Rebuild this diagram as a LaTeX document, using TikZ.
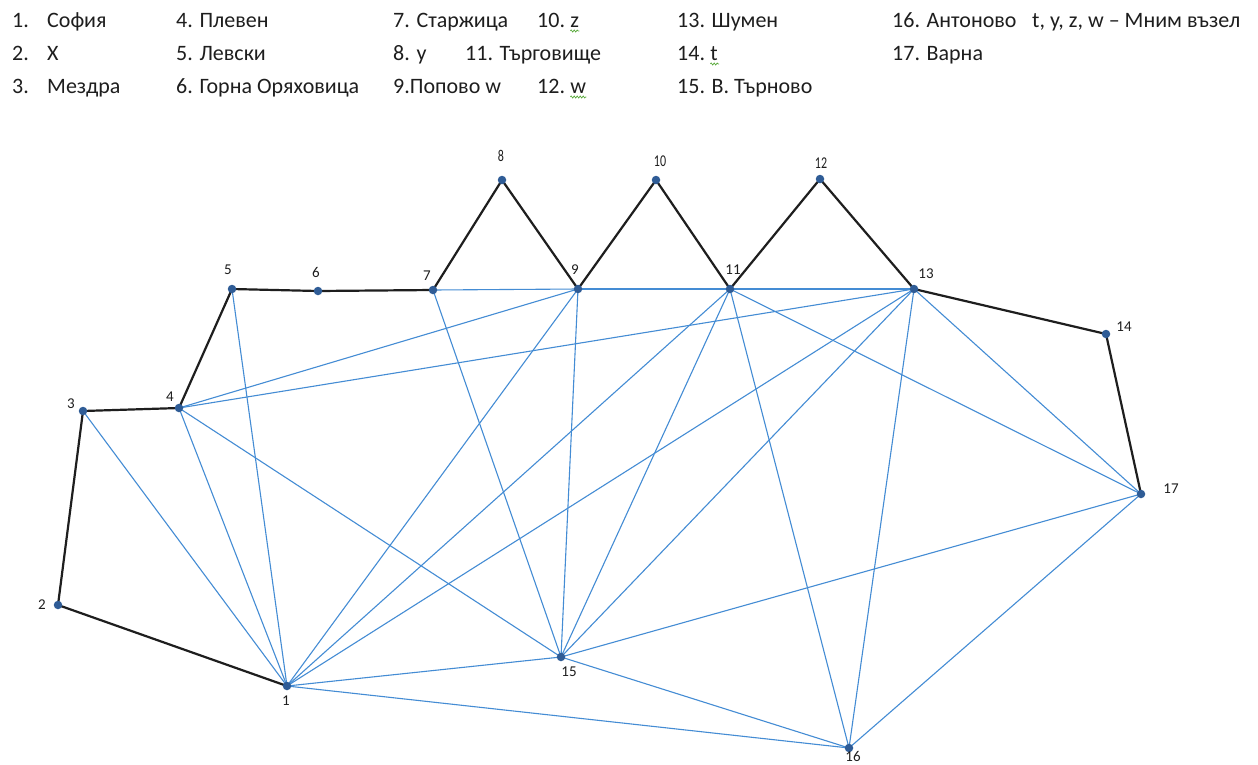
\documentclass[tikz,border=0pt]{standalone}
\usepackage{fontspec}
\setmainfont{Carlito}
\usetikzlibrary{decorations.pathmorphing}
\pgfdeclarelayer{background}
\pgfsetlayers{background,main}
\definecolor{edgeblue}{RGB}{68,140,212}
\definecolor{dotblue}{RGB}{47,92,150}
\definecolor{ink}{RGB}{30,30,30}
\definecolor{spell}{RGB}{90,170,60}
\begin{document}
\begin{tikzpicture}[x=1pt,y=-1pt,
  vtx/.style={circle,fill=dotblue,inner sep=0pt,minimum size=8.5pt},
  road/.style={draw=ink,line width=2.2pt},
  link/.style={draw=edgeblue,line width=1.1pt},
  num/.style={font=\fontsize{15}{17}\selectfont,inner sep=0pt,text=ink},
  head/.style={font=\fontsize{22}{26}\selectfont,anchor=base west,inner sep=0pt,text=ink},
  squiggle/.style={draw=spell,line width=0.7pt,decorate,decoration={snake,amplitude=1pt,segment length=3pt}}]
\useasboundingbox (0,0) rectangle (1258,764);

% legend
\node[head] (h1a) at (12,27) {1.};
\node[head] (h1b) at (47,27) {София};
\node[head] (h2a) at (12,60) {2.};
\node[head] (h2b) at (47,60) {X};
\node[head] (h3a) at (12,93) {3.};
\node[head] (h3b) at (47,93) {Мездра};
\node[head] (h4) at (176,27) {4. Плевен};
\node[head] (h5) at (176,60) {5. Левски};
\node[head] (h6) at (176,93) {6. Горна Оряховица};
\node[head] (h7) at (393,27) {7. Старжица};
\node[head] (h8) at (393,60) {8. y};
\node[head] (h9) at (393,93) {9.Попово w};
\node[head] (h10) at (537,27) {10.};
\node[head] (hz) at (h10.base east) {\ z};
\node[head] (h11) at (465,60) {11. Търговище};
\node[head] (h12) at (537,93) {12.};
\node[head] (hw) at (h12.base east) {\ w};
\node[head] (h13) at (677,27) {13. Шумен};
\node[head] (h14) at (677,60) {14.};
\node[head] (ht) at (h14.base east) {\ t};
\node[head] (h15) at (677,93) {15. В. Търново};
\node[head] (h16) at (892,27) {16. Антоново};
\node[head] (h17) at (892,60) {17. Варна};
\node[head] (hnote) at (1032,27) {t, y, z, w – Мним възел};
\draw[squiggle] ([xshift=5pt,yshift=-4pt]hz.base west) -- ([yshift=-4pt]hz.base east);
\draw[squiggle] ([xshift=5pt,yshift=-4pt]hw.base west) -- ([yshift=-4pt]hw.base east);
\draw[squiggle] ([xshift=5pt,yshift=-4pt]ht.base west) -- ([xshift=1pt,yshift=-4pt]ht.base east);

% vertices
\node[vtx] (n1) at (287,686) {};
\node[vtx] (n2) at (58,605) {};
\node[vtx] (n3) at (83,411) {};
\node[vtx] (n4) at (179,408) {};
\node[vtx] (n5) at (232,289) {};
\node[vtx] (n6) at (318,291) {};
\node[vtx] (n7) at (433,290) {};
\node[vtx] (n8) at (502,180) {};
\node[vtx] (n9) at (578,289) {};
\node[vtx] (n10) at (656,180) {};
\node[vtx] (n11) at (730,289) {};
\node[vtx] (n12) at (820,179) {};
\node[vtx] (n13) at (914,289) {};
\node[vtx] (n14) at (1106,334) {};
\node[vtx] (n15) at (561,657) {};
\node[vtx] (n16) at (849,748) {};
\node[vtx] (n17) at (1141,494) {};

% vertex numbers
\node[num] (l1) at (286,701) {1};
\node[num] (l2) at (42,605) {2};
\node[num] (l3) at (71,404) {3};
\node[num] (l4) at (170,397) {4};
\node[num] (l5) at (228,270) {5};
\node[num] (l6) at (316,272) {6};
\node[num] (l7) at (427,276) {7};
\node[num,xscale=0.8,yscale=1.1] (l8) at (501,156) {8};
\node[num] (l9) at (575,270) {9};
\node[num,xscale=0.8,yscale=1.1] (l10) at (660,161) {10};
\node[num] (l11) at (733,270) {11};
\node[num,xscale=0.8,yscale=1.1] (l12) at (821,163) {12};
\node[num] (l13) at (926,274) {13};
\node[num] (l14) at (1124,327) {14};
\node[num] (l15) at (569,672) {15};
\node[num] (l16) at (853,756) {16};
\node[num] (l17) at (1171,489) {17};

\begin{pgfonlayer}{background}
\fill[white] (0,0) rectangle (1258,764);
% blue links
\foreach \a/\b in {7/9,9/11,11/13,
    1/3,1/4,1/5,1/9,1/11,1/13,1/15,1/16,
    4/9,4/13,4/15,
    15/7,15/9,15/11,15/13,15/17,15/16,
    16/11,16/13,16/17,
    17/11,17/13}
  \draw[link] (n\a.center) -- (n\b.center);
% black roads
\foreach \a/\b in {1/2,2/3,3/4,4/5,5/6,6/7,7/8,8/9,9/10,10/11,11/12,12/13,13/14,14/17}
  \draw[road] (n\a.center) -- (n\b.center);
\end{pgfonlayer}
\end{tikzpicture}
\end{document}
